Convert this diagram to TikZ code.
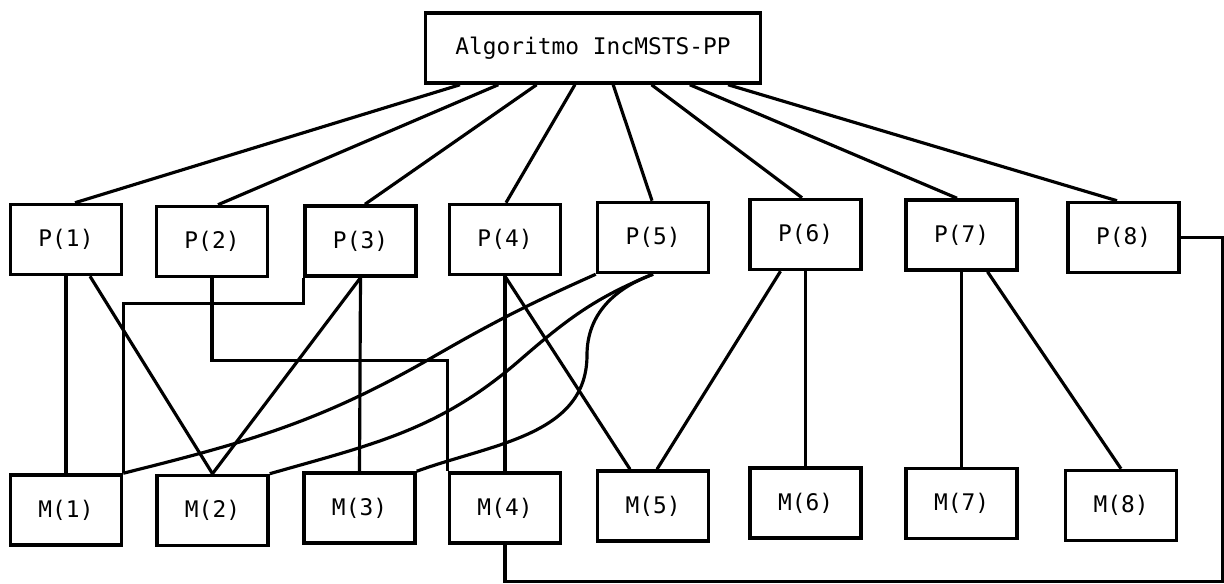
\documentclass[tikz,border=0pt]{standalone}
\usepackage{fontspec}
\setmonofont{DejaVu Sans Mono}
\usepackage{tikz}
\usetikzlibrary{calc}

\begin{document}
\begin{tikzpicture}[
  box/.style={draw, line width=2pt, minimum width=2.22cm, minimum height=1.40cm,
    inner sep=0pt, font=\ttfamily\fontsize{13}{15}\selectfont},
  link/.style={line width=1.8pt}]
  \useasboundingbox (0,0) rectangle (24.48,11.66);
  % Algorithm box
  \node[box, minimum width=6.70cm] (alg) at (11.86,10.70) {Algoritmo IncMSTS-PP};
  % Processors (top row) and memories (bottom row)
  \foreach \i/\xp/\yp/\xm/\ym in {1/1.32/6.87/1.32/1.46, 2/4.24/6.83/4.25/1.45,
      3/7.21/6.84/7.19/1.50, 4/10.10/6.87/10.10/1.50, 5/13.06/6.91/13.06/1.54,
      6/16.11/6.97/16.11/1.60, 7/19.23/6.96/19.23/1.59, 8/22.47/6.91/22.42/1.55} {
    \node[box] (P\i) at (\xp,\yp) {P(\i)};
    \node[box] (M\i) at (\xm,\ym) {M(\i)};
  }
  % Fan out from the algorithm
  \foreach \i/\dx/\ex in {1/-2.66/0.18, 2/-1.894/0.12, 3/-1.128/0.09, 4/-0.362/0.02,
      5/0.404/-0.02, 6/1.17/-0.07, 7/1.936/-0.09, 8/2.702/-0.13} {
    \draw[link] ($(alg.south)+(\dx,0)$) -- ($(P\i.north)+(\ex,0)$);
  }
  % Straight links
  \draw[link] (P1.south) -- (M1.north);
  \draw[link] ($(P1.south)+(0.48,0)$) -- (M2.north);
  \draw[link] (P3.south) -- (M2.north);
  \draw[link] (P3.south) -- (M3.north);
  \draw[link] (P4.south) -- (M4.north);
  \draw[link] (P4.south) -- ($(M5.north)+(-0.46,0)$);
  \draw[link] ($(P6.south)+(-0.5,0)$) -- ($(M5.north)+(0.08,0)$);
  \draw[link] (P6.south) -- (M6.north);
  \draw[link] (P7.south) -- (M7.north);
  \draw[link] ($(P7.south)+(0.52,0)$) -- (M8.north);
  % Routed links
  \draw[link] (P3.south west) -- ++(0,-0.52) -| (M1.north east);
  \draw[link] (P2.south) -- ++(0,-1.64) -| (M4.north west);
  \draw[link] (P8.east) -- ++(0.84,0) |- ($(M4.south)+(0,-0.74)$) -- (M4.south);
  % Curved links from P(5)
  \coordinate (k1) at (8.66,4.52);
  \coordinate (k2) at (10.40,4.46);
  \coordinate (k3) at (11.74,4.56);
  \draw[link] (P5.south west) to[out=204,in=30] (k1) to[out=210,in=14] (M1.north east);
  \draw[link] (P5.south) to[out=202,in=41] (k2) to[out=221,in=16] (M2.north east);
  \draw[link] (P5.south) to[out=200,in=90] (k3) to[out=270,in=20] (M3.north east);
\end{tikzpicture}
\end{document}
